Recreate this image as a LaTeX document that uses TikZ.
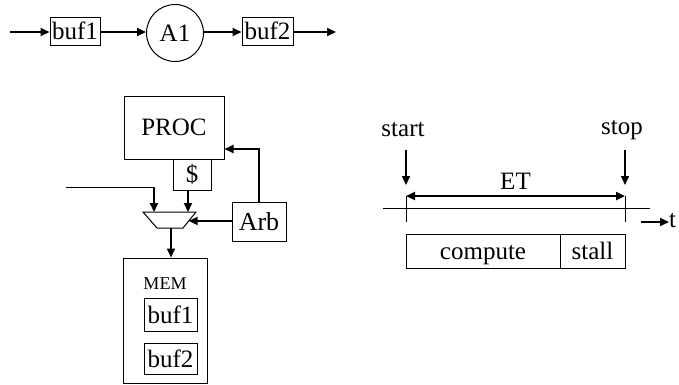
\documentclass[tikz,border=0pt]{standalone}
\usepackage{fontspec}
\setmainfont{Liberation Serif}
\usetikzlibrary{arrows.meta,calc}
\begin{document}
\begin{tikzpicture}[x=1pt,y=-1pt,
  txt/.style={font=\fontsize{25}{25}\selectfont, inner sep=0pt},
  box/.style={draw, line width=1pt, inner sep=0pt, font=\fontsize{25}{25}\selectfont},
  phase/.style={box, minimum height=34pt, text height=20pt, text depth=4pt},
  thinline/.style={line width=1pt},
  arr/.style={line width=2pt, -{Triangle[length=9pt,width=8pt]}},
  darr/.style={line width=2.5pt, {Triangle[length=9pt,width=8pt]}-{Triangle[length=9pt,width=8pt]}},
]
\useasboundingbox (0,0) rectangle (679,384);

% --- pipeline: buf1 -> A1 -> buf2
\coordinate (src) at (10,32);
\node[box, minimum width=50pt, minimum height=28pt] (b1) at (75,31) {buf1};
\node[draw, circle, line width=1pt, minimum size=57pt, inner sep=0pt, font=\fontsize{25}{25}\selectfont] (a1) at (175,33) {A1};
\node[box, minimum width=51pt, minimum height=28pt] (b2) at (267.5,31) {buf2};
\coordinate (snk) at (336,32);
\draw[arr] (src) -- (src -| b1.west);
\draw[arr] (b1.east |- src) -- (a1.west |- src);
\draw[arr] (a1.east |- src) -- (b2.west |- src);
\draw[arr] (b2.east |- src) -- (snk);

% --- processor, cache, arbiter, memory
\node[box, minimum width=100pt, minimum height=63pt] (proc) at (174,127.5) {PROC};
\node[box, minimum width=38pt, minimum height=31pt] (cache) at (192,174.5) {\$};
\node[box, minimum width=54pt, minimum height=39pt, font=\fontsize{26}{26}\selectfont] (arb) at (259,221.5) {Arb};

% multiplexer
\coordinate (mtl) at (143,212);
\coordinate (mtr) at (196,212);
\coordinate (mbr) at (183,228);
\coordinate (mbl) at (157,228);
\draw[thinline] (mtl) -- (mtr) -- (mbr) -- (mbl) -- cycle;
\coordinate (min1) at (154,212);
\coordinate (min2) at (188,212);
\coordinate (marb) at ($(mtr)!0.56!(mbr)$);
\coordinate (mout) at (171,228);

\node[box, minimum width=84pt, minimum height=125pt] (mem) at (165,320.5) {};
\node[txt, font=\fontsize{18}{18}\selectfont] (memlbl) at (165,284) {MEM};
\node[box, minimum width=53pt, minimum height=33pt] (mb1) at (170.5,314.5) {buf1};
\node[box, minimum width=53pt, minimum height=31pt] (mb2) at (170.5,358.5) {buf2};

\coordinate (ext) at (66,187);
\draw[thinline] (ext) -- (ext -| min1);
\draw[arr] (ext -| min1) -- (min1);
\draw[arr] (cache.south -| min2) -- (min2);
\draw[arr] (arb.west |- marb) -- (marb);
\draw[arr] (arb.north) |- (proc.east |- 0,149);
\draw[arr] (mout) -- (mout |- mem.north);

% --- execution time line
\node[txt] (start) at (403,130) {start};
\node[txt] (stop) at (622,130) {stop};
\coordinate (t0) at (406,196);
\coordinate (t1) at (625,196);
\draw[arr, line width=1.5pt] (406,150) -- (406,185);
\draw[arr, line width=1.5pt] (625,150) -- (625,185);
\draw[darr] (t0) -- node[txt, above=5pt] (et) {ET} (t1);
\coordinate (axl) at (383,208);
\coordinate (axr) at (650,208);
\draw[thinline] (axl) -- (axr);
\draw[thinline] (t0) -- ++(0,26);
\draw[thinline] (t1) -- ++(0,26);
\coordinate (ta) at (641,222);
\node[txt, anchor=west] (tlbl) at (669,221) {t};
\draw[arr] (ta) -- (tlbl.west |- ta);

\node[phase, minimum width=154pt] (comp) at (483,251) {compute};
\node[phase, minimum width=65pt] (stall) at (592.5,251) {stall};
\end{tikzpicture}
\end{document}
